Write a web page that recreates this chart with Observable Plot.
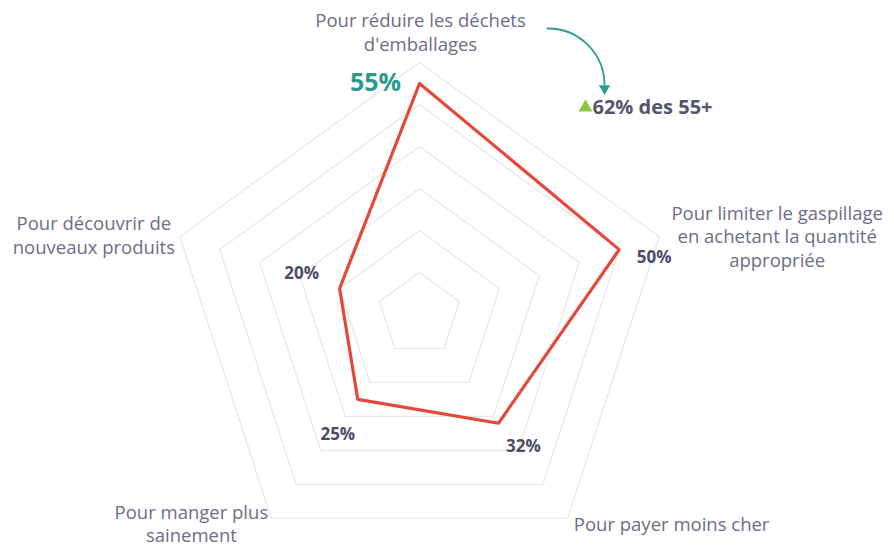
<!DOCTYPE html>
<html>
<head>
<meta charset="utf-8">
<script src="https://cdn.jsdelivr.net/npm/d3@7"></script>
<script src="https://cdn.jsdelivr.net/npm/@observablehq/plot@0.6"></script>
<style>
  html, body { margin: 0; padding: 0; background: #fff; }
  #chart { width: 894px; height: 546px; }
</style>
</head>
<body>
<div id="chart"></div>
<script>
// ---- data ----
const categories = [
  "Pour réduire les déchets\nd'emballages",
  "Pour limiter le gaspillage\nen achetant la quantité\nappropriée",
  "Pour payer moins cher",
  "Pour manger plus\nsainement",
  "Pour découvrir de\nnouveaux produits"
];
const values = [55, 50, 32, 25, 20];
const valueLabels = ["55%", "50%", "32%", "25%", "20%"];
const gridLevels = [10, 20, 30, 40, 50, 60];
const calloutText = ["62% des 55+"];

// ---- layout ----
const W = 894, H = 546;
const k = 4.2;            // px per percentage point
const cx = 419, cy = 314; // centre in px
const maxLevel = 60;
const n = categories.length;
const angle = i => Math.PI / 2 - i * 2 * Math.PI / n;
const pt = (r, i) => ({x: r * Math.cos(angle(i)), y: r * Math.sin(angle(i))});

const catLayout = [
  {dx: 1, dy: -31, lh: 1.3},
  {dx: 118, dy: -1, lh: 1.27},
  {dx: 104, dy: 6, lh: 1.2},
  {dx: -80, dy: 5, lh: 1.22},
  {dx: -86, dy: -2, lh: 1.25}
];
const valLayout = [
  {dx: -44, dy: -1, size: 25, fill: "#2b9a8c"},
  {dx: 35, dy: 8, size: 17, fill: "#4c4c66"},
  {dx: 25, dy: 23, size: 17, fill: "#4c4c66"},
  {dx: -20, dy: 35, size: 17, fill: "#4c4c66"},
  {dx: -38, dy: -15, size: 17, fill: "#4c4c66"}
];

const gridData = gridLevels.flatMap(level =>
  d3.range(n + 1).map(i => ({level, ...pt(level, i % n)})));
const seriesData = d3.range(n + 1).map(i => ({value: values[i % n], ...pt(values[i % n], i % n)}));
const catData = categories.map((c, i) => ({label: c, ...pt(maxLevel, i), ...catLayout[i]}));
const valData = valueLabels.map((v, i) => ({label: v, ...pt(values[i], i), ...valLayout[i]}));

const topVal = pt(values[0], 0);
const font = "'Open Sans', sans-serif";

const marks = [
  Plot.line(gridData, {x: "x", y: "y", z: "level", stroke: "#e6e6e6", strokeWidth: 1.2}),
  Plot.line(seriesData, {x: "x", y: "y", stroke: "#e5473a", strokeWidth: 3.2, strokeLinejoin: "miter"}),
  ...catData.map(d => Plot.text([d], {
    x: "x", y: "y", text: "label", dx: d.dx, dy: d.dy,
    textAnchor: "middle", lineAnchor: "middle", lineHeight: d.lh,
    fontSize: 18.5, fill: "#6d6d87", fontFamily: font
  })),
  ...valData.map(d => Plot.text([d], {
    x: "x", y: "y", text: "label", dx: d.dx, dy: d.dy,
    textAnchor: "middle", lineAnchor: "middle",
    fontSize: d.size, fontWeight: "bold", fill: d.fill, fontFamily: font
  })),
  // callout arrow from the top label towards the 55+ note
  Plot.arrow([{x1: (547 - cx) / k, y1: (cy - 28) / k, x2: (604 - cx) / k, y2: (cy - 84) / k}], {
    x1: "x1", y1: "y1", x2: "x2", y2: "y2", bend: 45, stroke: "#2f9c90", strokeWidth: 1.8, headLength: 0
  }),
  Plot.dot([{x: (604 - cx) / k, y: (cy - 88) / k}], {
    x: "x", y: "y", symbol: "triangle", r: 4.2, rotate: 180, fill: "#2f9c90", stroke: "none"
  }),
  Plot.dot([{x: topVal.x, y: topVal.y}], {
    x: "x", y: "y", dx: 166, dy: 24, symbol: "triangle", r: 5.2, fill: "#8cc63f", stroke: "none"
  }),
  Plot.text([{x: topVal.x, y: topVal.y, label: calloutText[0]}], {
    x: "x", y: "y", text: "label", dx: 173, dy: 24, textAnchor: "start", lineAnchor: "middle",
    fontSize: 20, fontWeight: "bold", fill: "#55556b", fontFamily: font
  })
];

const chart = Plot.plot({
  width: W, height: H,
  margin: 0,
  x: {domain: [-cx / k, (W - cx) / k], range: [0, W], axis: null},
  y: {domain: [-(H - cy) / k, cy / k], range: [H, 0], axis: null},
  style: {background: "#fff", fontFamily: font},
  marks
});
document.getElementById("chart").appendChild(chart);
</script>
</body>
</html>
